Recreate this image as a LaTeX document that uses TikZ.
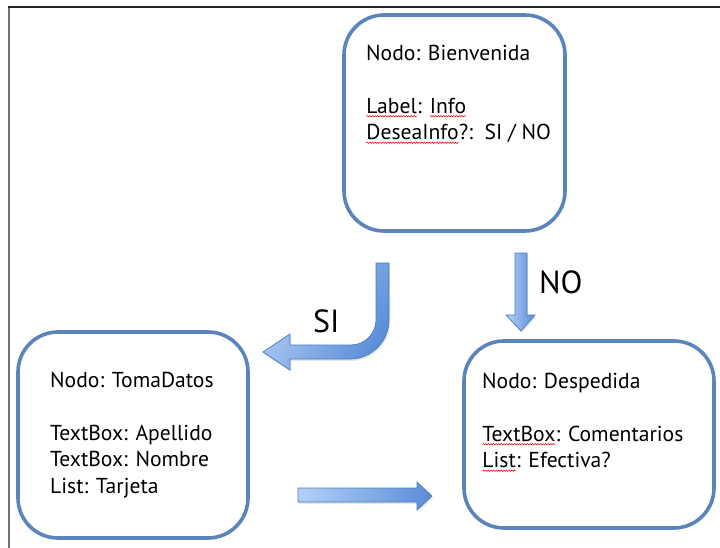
\documentclass[tikz,border=0pt]{standalone}
\usepackage{fontspec}
\setmainfont{PT Sans}
\usetikzlibrary{shadows,decorations.pathmorphing}

% red wavy spell-check underline under a word
\newcommand\squig[1]{\tikz[baseline=(sw.base), x=1pt, y=1pt]{%
  \node[inner sep=0pt, outer sep=0pt] (sw) {#1};
  \draw[red!85!black, line width=0.5pt, decorate,
    decoration={snake, amplitude=0.7pt, segment length=2.6pt}]
    ([yshift=-3pt]sw.base west) -- ([yshift=-3pt]sw.base east);}}

\definecolor{boxblue}{HTML}{5A84BA}
\definecolor{arrowlight}{HTML}{B4D0F5}
\definecolor{arrowdark}{HTML}{5A8DD8}
\definecolor{arrowedge}{HTML}{4A7CC0}

\tikzset{
  screen/.style={draw=boxblue, line width=3.6pt, rounded corners=40pt, fill=white, inner sep=0pt},
  screentext/.style={anchor=north west, inner sep=0pt, align=left,
    font=\fontsize{21.6}{26.5}\selectfont, text=black},
  blockarrow/.style={draw=arrowedge, line width=0.7pt, left color=arrowlight, right color=arrowdark,
    drop shadow={opacity=0.2, shadow xshift=1pt, shadow yshift=-2pt}},
  answer/.style={anchor=base west, inner sep=0pt, font=\fontsize{32}{40}\selectfont, text=black}
}

\begin{document}
\begin{tikzpicture}[x=1pt, y=-1pt]
\useasboundingbox (0,0) rectangle (720,548);
\fill[white] (0,0) rectangle (720,548);

% page frame
\draw[line width=2pt, black!55] (8.5,548) -- (8.5,7);
\draw[line width=1.6pt, black!85] (7.5,7) -- (720,7);

% screens
\node[screen, minimum width=221pt, minimum height=216pt] (bien) at (454.5,123) {};
\node[screen, minimum width=230pt, minimum height=206pt] (toma) at (133,435) {};
\node[screen, minimum width=250pt, minimum height=187pt] (desp) at (589,434.5) {};

% screen contents
\node[screentext] (bientxt) at (366,41.5)
  {\strut Nodo: Bienvenida\\[26.5pt]\squig{Label}: \squig{Info}\\\squig{DeseaInfo}?:\ \ SI / NO};
\node[screentext] (tomatxt) at (50,368.5)
  {\strut Nodo: TomaDatos\\[26.5pt]TextBox: Apellido\\TextBox: Nombre\\List: Tarjeta};
\node[screentext] (desptxt) at (482,369.5)
  {\strut Nodo: Despedida\\[26.5pt]\squig{TextBox}: Comentarios\\\squig{List}: Efectiva?};

% NO: straight down
\draw[blockarrow] (515,253) -- (527,253) -- (527,315) -- (535,315) -- (521,331)
  -- (506,315) -- (515,315) -- cycle;
\node[answer] (no) at (539,293) {NO};

% SI: bent down-left
\draw[blockarrow, shading angle=60] (376,263) -- (389,263) -- (389,320)
  .. controls (389,341.5) and (371.5,359) .. (350,359)
  -- (290,359) -- (290,370) -- (263,352) -- (290,334) -- (290,345) -- (351,345)
  .. controls (364.8,345) and (376,333.8) .. (376,320) -- cycle;
\node[answer] (si) at (313,332) {SI};

% TomaDatos to Despedida
\draw[blockarrow] (298,488) -- (417,488) -- (417,482) -- (432,496) -- (417,510)
  -- (417,502) -- (298,502) -- cycle;
\end{tikzpicture}
\end{document}
